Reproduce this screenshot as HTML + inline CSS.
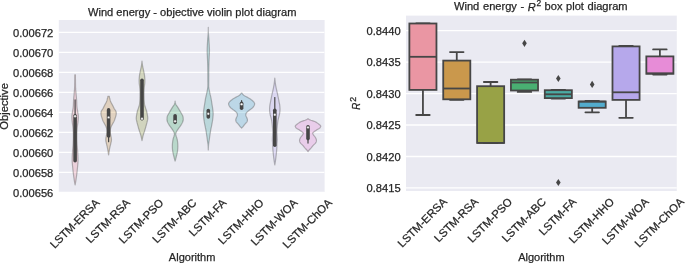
<!DOCTYPE html>
<html><head><meta charset="utf-8"><style>
html,body{margin:0;padding:0;background:#fff;}
body{width:685px;height:263px;overflow:hidden;}
svg{display:block;font-family:"Liberation Sans", sans-serif;will-change:transform;}
text{stroke:#262626;stroke-width:0.25px;}
</style></head><body>
<svg width="685" height="263" viewBox="0 0 685 263">
<rect x="0" y="0" width="685" height="263" fill="#ffffff"/>
<rect x="58.8" y="20.0" width="265.80" height="172.00" fill="#EAEAF2"/>
<clipPath id="cl"><rect x="58.8" y="20.0" width="265.80" height="172.00"/></clipPath>
<g clip-path="url(#cl)">
<line x1="58.8" x2="324.6" y1="32.40" y2="32.40" stroke="#ffffff" stroke-width="1.3"/>
<line x1="58.8" x2="324.6" y1="52.40" y2="52.40" stroke="#ffffff" stroke-width="1.3"/>
<line x1="58.8" x2="324.6" y1="72.40" y2="72.40" stroke="#ffffff" stroke-width="1.3"/>
<line x1="58.8" x2="324.6" y1="92.40" y2="92.40" stroke="#ffffff" stroke-width="1.3"/>
<line x1="58.8" x2="324.6" y1="112.40" y2="112.40" stroke="#ffffff" stroke-width="1.3"/>
<line x1="58.8" x2="324.6" y1="132.40" y2="132.40" stroke="#ffffff" stroke-width="1.3"/>
<line x1="58.8" x2="324.6" y1="152.40" y2="152.40" stroke="#ffffff" stroke-width="1.3"/>
<line x1="58.8" x2="324.6" y1="172.40" y2="172.40" stroke="#ffffff" stroke-width="1.3"/>
<line x1="58.8" x2="324.6" y1="192.40" y2="192.40" stroke="#ffffff" stroke-width="1.3"/>
<path d="M75.40,74.80 L75.40,75.10 L75.41,75.46 L75.41,75.89 L75.41,76.37 L75.42,76.90 L75.42,77.47 L75.43,78.07 L75.43,78.70 L75.44,79.34 L75.45,80.00 L75.46,80.43 L75.46,80.89 L75.47,81.37 L75.47,81.88 L75.48,82.40 L75.49,82.94 L75.50,83.48 L75.50,84.02 L75.51,84.57 L75.52,85.11 L75.53,85.64 L75.54,86.16 L75.55,86.66 L75.57,87.13 L75.58,87.58 L75.60,88.00 L75.63,88.66 L75.67,89.24 L75.71,89.75 L75.75,90.22 L75.79,90.68 L75.84,91.14 L75.89,91.63 L75.95,92.18 L76.00,92.80 L76.04,93.24 L76.08,93.71 L76.12,94.20 L76.17,94.71 L76.21,95.23 L76.26,95.76 L76.31,96.30 L76.35,96.84 L76.40,97.39 L76.44,97.93 L76.49,98.47 L76.53,98.99 L76.57,99.50 L76.60,100.00 L76.63,100.57 L76.66,101.13 L76.69,101.70 L76.71,102.26 L76.73,102.81 L76.74,103.36 L76.76,103.90 L76.78,104.43 L76.80,104.95 L76.83,105.45 L76.86,105.93 L76.90,106.40 L76.96,106.99 L77.03,107.54 L77.10,108.05 L77.18,108.55 L77.27,109.03 L77.35,109.50 L77.44,109.99 L77.52,110.48 L77.60,111.00 L77.67,111.48 L77.75,111.97 L77.84,112.47 L77.92,112.97 L78.01,113.47 L78.08,113.98 L78.16,114.49 L78.22,114.99 L78.27,115.50 L78.30,116.00 L78.32,116.50 L78.33,116.98 L78.33,117.47 L78.31,117.95 L78.29,118.44 L78.27,118.93 L78.23,119.43 L78.19,119.94 L78.15,120.46 L78.10,121.00 L78.05,121.46 L78.00,121.94 L77.93,122.43 L77.86,122.93 L77.79,123.43 L77.71,123.94 L77.64,124.45 L77.56,124.96 L77.49,125.48 L77.42,125.99 L77.35,126.50 L77.30,127.00 L77.25,127.50 L77.21,127.99 L77.16,128.48 L77.12,128.96 L77.08,129.45 L77.05,129.94 L77.02,130.43 L76.99,130.93 L76.96,131.43 L76.94,131.94 L76.92,132.46 L76.90,133.00 L76.89,133.47 L76.88,133.96 L76.87,134.45 L76.86,134.96 L76.86,135.47 L76.86,135.98 L76.86,136.50 L76.86,137.02 L76.86,137.53 L76.87,138.04 L76.87,138.55 L76.88,139.04 L76.89,139.53 L76.90,140.00 L76.91,140.54 L76.93,141.06 L76.95,141.57 L76.97,142.07 L76.99,142.57 L77.02,143.06 L77.05,143.55 L77.07,144.04 L77.10,144.52 L77.13,145.01 L77.17,145.50 L77.20,146.00 L77.24,146.50 L77.27,147.00 L77.32,147.50 L77.36,148.00 L77.40,148.50 L77.45,149.00 L77.50,149.50 L77.54,150.00 L77.58,150.50 L77.63,151.00 L77.66,151.50 L77.70,152.00 L77.73,152.51 L77.77,153.02 L77.80,153.55 L77.83,154.07 L77.85,154.60 L77.88,155.12 L77.91,155.64 L77.93,156.15 L77.95,156.64 L77.97,157.12 L77.99,157.57 L78.00,158.00 L78.02,158.59 L78.03,159.13 L78.04,159.62 L78.04,160.09 L78.04,160.55 L78.04,161.01 L78.02,161.49 L78.00,162.00 L77.97,162.47 L77.94,162.94 L77.90,163.41 L77.86,163.89 L77.81,164.38 L77.76,164.88 L77.71,165.40 L77.66,165.94 L77.60,166.50 L77.55,166.98 L77.51,167.47 L77.46,167.97 L77.41,168.48 L77.36,169.00 L77.31,169.54 L77.26,170.09 L77.20,170.64 L77.14,171.22 L77.07,171.80 L77.00,172.40 L76.94,172.89 L76.88,173.40 L76.81,173.93 L76.74,174.47 L76.67,175.02 L76.59,175.58 L76.52,176.14 L76.44,176.70 L76.37,177.26 L76.29,177.80 L76.21,178.33 L76.14,178.85 L76.07,179.34 L76.00,179.80 L75.90,180.43 L75.80,181.06 L75.69,181.69 L75.59,182.29 L75.49,182.86 L75.39,183.40 L75.30,183.89 L75.22,184.33 L75.15,184.70 L75.10,185.00 L75.10,185.00 L75.05,184.70 L74.98,184.33 L74.90,183.89 L74.81,183.40 L74.71,182.86 L74.61,182.29 L74.51,181.69 L74.40,181.06 L74.30,180.43 L74.20,179.80 L74.13,179.34 L74.06,178.85 L73.99,178.33 L73.91,177.80 L73.83,177.26 L73.76,176.70 L73.68,176.14 L73.61,175.58 L73.53,175.02 L73.46,174.47 L73.39,173.93 L73.32,173.40 L73.26,172.89 L73.20,172.40 L73.13,171.80 L73.06,171.22 L73.00,170.64 L72.94,170.09 L72.89,169.54 L72.84,169.00 L72.79,168.48 L72.74,167.97 L72.69,167.47 L72.65,166.98 L72.60,166.50 L72.54,165.94 L72.49,165.40 L72.44,164.88 L72.39,164.38 L72.34,163.89 L72.30,163.41 L72.26,162.94 L72.23,162.47 L72.20,162.00 L72.18,161.49 L72.16,161.01 L72.16,160.55 L72.16,160.09 L72.16,159.62 L72.17,159.13 L72.18,158.59 L72.20,158.00 L72.21,157.57 L72.23,157.12 L72.25,156.64 L72.27,156.15 L72.29,155.64 L72.32,155.12 L72.35,154.60 L72.37,154.07 L72.40,153.55 L72.43,153.02 L72.47,152.51 L72.50,152.00 L72.54,151.50 L72.57,151.00 L72.62,150.50 L72.66,150.00 L72.70,149.50 L72.75,149.00 L72.80,148.50 L72.84,148.00 L72.88,147.50 L72.93,147.00 L72.96,146.50 L73.00,146.00 L73.03,145.50 L73.07,145.01 L73.10,144.52 L73.13,144.04 L73.15,143.55 L73.18,143.06 L73.21,142.57 L73.23,142.07 L73.25,141.57 L73.27,141.06 L73.29,140.54 L73.30,140.00 L73.31,139.53 L73.32,139.04 L73.33,138.55 L73.33,138.04 L73.34,137.53 L73.34,137.02 L73.34,136.50 L73.34,135.98 L73.34,135.47 L73.34,134.96 L73.33,134.45 L73.32,133.96 L73.31,133.47 L73.30,133.00 L73.28,132.46 L73.26,131.94 L73.24,131.43 L73.21,130.93 L73.18,130.43 L73.15,129.94 L73.12,129.45 L73.08,128.96 L73.04,128.48 L72.99,127.99 L72.95,127.50 L72.90,127.00 L72.85,126.50 L72.78,125.99 L72.71,125.48 L72.64,124.96 L72.56,124.45 L72.49,123.94 L72.41,123.43 L72.34,122.93 L72.27,122.43 L72.20,121.94 L72.15,121.46 L72.10,121.00 L72.05,120.46 L72.01,119.94 L71.97,119.43 L71.93,118.93 L71.91,118.44 L71.89,117.95 L71.87,117.47 L71.87,116.98 L71.88,116.50 L71.90,116.00 L71.93,115.50 L71.98,114.99 L72.04,114.49 L72.12,113.98 L72.19,113.47 L72.28,112.97 L72.36,112.47 L72.45,111.97 L72.53,111.48 L72.60,111.00 L72.68,110.48 L72.76,109.99 L72.85,109.50 L72.93,109.03 L73.02,108.55 L73.10,108.05 L73.17,107.54 L73.24,106.99 L73.30,106.40 L73.34,105.93 L73.37,105.45 L73.40,104.95 L73.42,104.43 L73.44,103.90 L73.46,103.36 L73.47,102.81 L73.49,102.26 L73.51,101.70 L73.54,101.13 L73.57,100.57 L73.60,100.00 L73.63,99.50 L73.67,98.99 L73.71,98.47 L73.76,97.93 L73.80,97.39 L73.85,96.84 L73.89,96.30 L73.94,95.76 L73.99,95.23 L74.03,94.71 L74.08,94.20 L74.12,93.71 L74.16,93.24 L74.20,92.80 L74.25,92.18 L74.31,91.63 L74.36,91.14 L74.41,90.68 L74.45,90.22 L74.49,89.75 L74.53,89.24 L74.57,88.66 L74.60,88.00 L74.62,87.58 L74.63,87.13 L74.65,86.66 L74.66,86.16 L74.67,85.64 L74.68,85.11 L74.69,84.57 L74.70,84.02 L74.70,83.48 L74.71,82.94 L74.72,82.40 L74.73,81.88 L74.73,81.37 L74.74,80.89 L74.74,80.43 L74.75,80.00 L74.76,79.34 L74.77,78.70 L74.77,78.07 L74.78,77.47 L74.78,76.90 L74.79,76.37 L74.79,75.89 L74.79,75.46 L74.80,75.10 L74.80,74.80 Z" fill="#ea96a3" fill-opacity="0.3" stroke="#464646" stroke-opacity="0.36" stroke-width="1.2" stroke-linejoin="round"/>
<path d="M109.35,96.30 L109.37,96.81 L109.45,97.50 L109.58,97.94 L109.75,98.41 L109.95,99.00 L110.06,99.43 L110.15,99.90 L110.27,100.42 L110.42,100.99 L110.65,101.60 L110.87,102.08 L111.13,102.60 L111.42,103.14 L111.73,103.71 L112.05,104.28 L112.36,104.85 L112.65,105.40 L112.93,105.96 L113.22,106.54 L113.50,107.13 L113.78,107.71 L114.05,108.26 L114.31,108.76 L114.55,109.20 L115.06,109.94 L115.51,110.46 L115.85,111.00 L116.02,111.50 L116.14,112.01 L116.21,112.52 L116.25,113.00 L116.28,113.51 L116.25,113.98 L116.15,114.60 L116.06,115.02 L115.95,115.49 L115.81,116.01 L115.66,116.54 L115.51,117.08 L115.35,117.60 L115.19,118.11 L115.02,118.63 L114.85,119.15 L114.66,119.67 L114.46,120.19 L114.25,120.70 L114.02,121.21 L113.77,121.71 L113.50,122.21 L113.23,122.70 L112.96,123.20 L112.70,123.70 L112.43,124.20 L112.15,124.71 L111.88,125.22 L111.61,125.72 L111.36,126.22 L111.15,126.70 L110.94,127.24 L110.76,127.76 L110.61,128.27 L110.49,128.81 L110.40,129.40 L110.35,129.85 L110.30,130.31 L110.27,130.79 L110.26,131.29 L110.27,131.82 L110.30,132.39 L110.35,133.00 L110.41,133.47 L110.50,133.99 L110.60,134.55 L110.72,135.12 L110.85,135.71 L110.97,136.29 L111.09,136.85 L111.20,137.38 L111.29,137.87 L111.35,138.30 L111.42,139.01 L111.45,139.57 L111.44,140.04 L111.40,140.50 L111.35,141.00 L111.28,141.50 L111.18,141.96 L111.06,142.43 L110.92,142.99 L110.75,143.70 L110.65,144.12 L110.54,144.58 L110.43,145.08 L110.30,145.60 L110.17,146.14 L110.04,146.70 L109.91,147.28 L109.78,147.85 L109.66,148.43 L109.55,149.00 L109.46,149.49 L109.37,150.03 L109.27,150.59 L109.18,151.17 L109.09,151.75 L109.00,152.33 L108.92,152.89 L108.84,153.42 L108.76,153.91 L108.70,154.34 L108.65,154.71 L108.60,155.00 L108.60,155.00 L108.55,154.71 L108.50,154.34 L108.44,153.91 L108.36,153.42 L108.28,152.89 L108.20,152.33 L108.11,151.75 L108.02,151.17 L107.93,150.59 L107.83,150.03 L107.74,149.49 L107.65,149.00 L107.54,148.43 L107.42,147.85 L107.29,147.28 L107.16,146.70 L107.03,146.14 L106.90,145.60 L106.77,145.08 L106.66,144.58 L106.55,144.12 L106.45,143.70 L106.28,142.99 L106.14,142.43 L106.02,141.96 L105.92,141.50 L105.85,141.00 L105.80,140.50 L105.76,140.04 L105.75,139.57 L105.78,139.01 L105.85,138.30 L105.91,137.87 L106.00,137.38 L106.11,136.85 L106.23,136.29 L106.35,135.71 L106.48,135.12 L106.60,134.55 L106.70,133.99 L106.79,133.47 L106.85,133.00 L106.90,132.39 L106.93,131.82 L106.94,131.29 L106.93,130.79 L106.90,130.31 L106.85,129.85 L106.80,129.40 L106.71,128.81 L106.59,128.27 L106.44,127.76 L106.26,127.24 L106.05,126.70 L105.84,126.22 L105.59,125.72 L105.32,125.22 L105.05,124.71 L104.77,124.20 L104.50,123.70 L104.24,123.20 L103.97,122.70 L103.70,122.21 L103.43,121.71 L103.18,121.21 L102.95,120.70 L102.74,120.19 L102.54,119.67 L102.35,119.15 L102.18,118.63 L102.01,118.11 L101.85,117.60 L101.69,117.08 L101.54,116.54 L101.39,116.01 L101.25,115.49 L101.14,115.02 L101.05,114.60 L100.95,113.98 L100.92,113.51 L100.95,113.00 L100.99,112.52 L101.06,112.01 L101.17,111.50 L101.35,111.00 L101.69,110.46 L102.14,109.94 L102.65,109.20 L102.89,108.76 L103.15,108.26 L103.42,107.71 L103.70,107.13 L103.98,106.54 L104.27,105.96 L104.55,105.40 L104.84,104.85 L105.15,104.28 L105.47,103.71 L105.78,103.14 L106.07,102.60 L106.33,102.08 L106.55,101.60 L106.78,100.99 L106.93,100.42 L107.05,99.90 L107.14,99.43 L107.25,99.00 L107.45,98.41 L107.62,97.94 L107.75,97.50 L107.83,96.81 L107.85,96.30 Z" fill="#ca984c" fill-opacity="0.3" stroke="#464646" stroke-opacity="0.36" stroke-width="1.2" stroke-linejoin="round"/>
<path d="M142.00,61.20 L142.04,61.51 L142.08,61.93 L142.13,62.42 L142.19,62.96 L142.26,63.55 L142.33,64.14 L142.41,64.74 L142.50,65.30 L142.59,65.79 L142.68,66.29 L142.79,66.80 L142.89,67.32 L143.01,67.83 L143.12,68.36 L143.23,68.87 L143.34,69.39 L143.45,69.90 L143.55,70.40 L143.66,70.90 L143.77,71.40 L143.88,71.90 L143.98,72.40 L144.08,72.90 L144.18,73.40 L144.27,73.90 L144.35,74.40 L144.43,74.91 L144.50,75.43 L144.57,75.95 L144.63,76.47 L144.69,76.99 L144.74,77.51 L144.78,78.02 L144.82,78.51 L144.85,79.00 L144.87,79.53 L144.89,80.04 L144.89,80.54 L144.89,81.04 L144.88,81.53 L144.86,82.01 L144.83,82.50 L144.80,83.00 L144.76,83.50 L144.70,84.00 L144.63,84.50 L144.56,85.00 L144.49,85.50 L144.42,86.00 L144.35,86.50 L144.30,87.00 L144.26,87.49 L144.21,87.95 L144.18,88.41 L144.14,88.88 L144.11,89.35 L144.09,89.86 L144.07,90.40 L144.05,91.00 L144.04,91.44 L144.03,91.91 L144.03,92.41 L144.03,92.93 L144.02,93.46 L144.03,94.00 L144.03,94.54 L144.03,95.07 L144.03,95.59 L144.04,96.09 L144.04,96.56 L144.05,97.00 L144.06,97.59 L144.07,98.12 L144.08,98.61 L144.09,99.08 L144.10,99.53 L144.13,99.99 L144.16,100.48 L144.20,101.00 L144.24,101.50 L144.28,102.01 L144.32,102.53 L144.37,103.06 L144.43,103.60 L144.49,104.14 L144.58,104.69 L144.68,105.24 L144.80,105.80 L144.94,106.30 L145.10,106.81 L145.28,107.32 L145.47,107.84 L145.68,108.36 L145.88,108.88 L146.08,109.41 L146.27,109.93 L146.45,110.47 L146.60,111.00 L146.72,111.50 L146.84,112.02 L146.95,112.56 L147.06,113.10 L147.16,113.65 L147.25,114.19 L147.34,114.71 L147.41,115.21 L147.48,115.68 L147.55,116.11 L147.60,116.50 L147.69,117.18 L147.74,117.69 L147.75,118.11 L147.74,118.52 L147.70,119.00 L147.66,119.42 L147.60,119.81 L147.53,120.22 L147.42,120.69 L147.28,121.26 L147.10,122.00 L147.01,122.38 L146.90,122.79 L146.78,123.24 L146.66,123.71 L146.53,124.20 L146.39,124.72 L146.25,125.25 L146.10,125.79 L145.95,126.34 L145.80,126.88 L145.65,127.43 L145.50,127.97 L145.35,128.49 L145.20,129.00 L145.05,129.51 L144.89,130.02 L144.73,130.54 L144.56,131.07 L144.39,131.59 L144.22,132.12 L144.04,132.64 L143.87,133.16 L143.71,133.67 L143.55,134.17 L143.40,134.65 L143.25,135.12 L143.12,135.57 L143.00,136.00 L142.83,136.65 L142.68,137.29 L142.54,137.91 L142.42,138.50 L142.31,139.06 L142.21,139.57 L142.13,140.02 L142.06,140.40 L142.00,140.70 L142.00,140.70 L141.94,140.40 L141.87,140.02 L141.79,139.57 L141.69,139.06 L141.58,138.50 L141.46,137.91 L141.32,137.29 L141.17,136.65 L141.00,136.00 L140.88,135.57 L140.75,135.12 L140.60,134.65 L140.45,134.17 L140.29,133.67 L140.13,133.16 L139.96,132.64 L139.78,132.12 L139.61,131.59 L139.44,131.07 L139.27,130.54 L139.11,130.02 L138.95,129.51 L138.80,129.00 L138.65,128.49 L138.50,127.97 L138.35,127.43 L138.20,126.88 L138.05,126.34 L137.90,125.79 L137.75,125.25 L137.61,124.72 L137.47,124.20 L137.34,123.71 L137.22,123.24 L137.10,122.79 L136.99,122.38 L136.90,122.00 L136.72,121.26 L136.58,120.69 L136.47,120.22 L136.40,119.81 L136.34,119.42 L136.30,119.00 L136.26,118.52 L136.25,118.11 L136.26,117.69 L136.31,117.18 L136.40,116.50 L136.45,116.11 L136.52,115.68 L136.59,115.21 L136.66,114.71 L136.75,114.19 L136.84,113.65 L136.94,113.10 L137.05,112.56 L137.16,112.02 L137.28,111.50 L137.40,111.00 L137.55,110.47 L137.73,109.93 L137.92,109.41 L138.12,108.88 L138.32,108.36 L138.53,107.84 L138.72,107.32 L138.90,106.81 L139.06,106.30 L139.20,105.80 L139.32,105.24 L139.42,104.69 L139.51,104.14 L139.57,103.60 L139.63,103.06 L139.68,102.53 L139.72,102.01 L139.76,101.50 L139.80,101.00 L139.84,100.48 L139.87,99.99 L139.90,99.53 L139.91,99.08 L139.92,98.61 L139.93,98.12 L139.94,97.59 L139.95,97.00 L139.96,96.56 L139.96,96.09 L139.97,95.59 L139.97,95.07 L139.97,94.54 L139.97,94.00 L139.98,93.46 L139.97,92.93 L139.97,92.41 L139.97,91.91 L139.96,91.44 L139.95,91.00 L139.93,90.40 L139.91,89.86 L139.89,89.35 L139.86,88.88 L139.82,88.41 L139.79,87.95 L139.74,87.49 L139.70,87.00 L139.65,86.50 L139.58,86.00 L139.51,85.50 L139.44,85.00 L139.37,84.50 L139.30,84.00 L139.24,83.50 L139.20,83.00 L139.17,82.50 L139.14,82.01 L139.12,81.53 L139.11,81.04 L139.11,80.54 L139.11,80.04 L139.13,79.53 L139.15,79.00 L139.18,78.51 L139.22,78.02 L139.26,77.51 L139.31,76.99 L139.37,76.47 L139.43,75.95 L139.50,75.43 L139.57,74.91 L139.65,74.40 L139.73,73.90 L139.82,73.40 L139.92,72.90 L140.02,72.40 L140.12,71.90 L140.23,71.40 L140.34,70.90 L140.45,70.40 L140.55,69.90 L140.66,69.39 L140.77,68.87 L140.88,68.36 L140.99,67.83 L141.11,67.32 L141.21,66.80 L141.32,66.29 L141.41,65.79 L141.50,65.30 L141.59,64.74 L141.67,64.14 L141.74,63.55 L141.81,62.96 L141.87,62.42 L141.92,61.93 L141.96,61.51 L142.00,61.20 Z" fill="#98a246" fill-opacity="0.3" stroke="#464646" stroke-opacity="0.36" stroke-width="1.2" stroke-linejoin="round"/>
<path d="M175.10,101.20 L175.16,101.59 L175.23,102.15 L175.33,102.79 L175.48,103.47 L175.70,104.10 L175.95,104.59 L176.26,105.09 L176.60,105.59 L176.96,106.10 L177.32,106.60 L177.65,107.10 L177.96,107.60 L178.26,108.10 L178.56,108.59 L178.86,109.09 L179.15,109.59 L179.45,110.10 L179.75,110.61 L180.06,111.13 L180.36,111.65 L180.66,112.17 L180.96,112.69 L181.25,113.20 L181.54,113.71 L181.84,114.23 L182.14,114.75 L182.42,115.26 L182.66,115.74 L182.85,116.20 L183.03,116.83 L183.13,117.41 L183.17,117.96 L183.20,118.50 L183.23,119.01 L183.25,119.50 L183.23,119.99 L183.15,120.50 L183.02,121.04 L182.84,121.58 L182.60,122.16 L182.30,122.80 L182.05,123.27 L181.77,123.78 L181.46,124.31 L181.13,124.84 L180.79,125.38 L180.45,125.90 L180.10,126.41 L179.73,126.91 L179.35,127.41 L178.97,127.90 L178.60,128.40 L178.25,128.90 L177.90,129.41 L177.55,129.93 L177.20,130.46 L176.88,130.97 L176.59,131.45 L176.35,131.90 L176.09,132.49 L175.91,133.01 L175.80,133.50 L175.75,134.00 L175.76,134.47 L175.84,134.90 L175.98,135.38 L176.15,136.00 L176.27,136.42 L176.43,136.87 L176.60,137.36 L176.78,137.89 L176.95,138.45 L177.11,139.05 L177.25,139.70 L177.33,140.14 L177.40,140.61 L177.48,141.11 L177.54,141.63 L177.61,142.16 L177.67,142.70 L177.72,143.24 L177.77,143.79 L177.81,144.34 L177.83,144.87 L177.85,145.40 L177.86,145.92 L177.86,146.44 L177.85,146.95 L177.83,147.47 L177.81,147.99 L177.77,148.50 L177.73,149.02 L177.69,149.54 L177.63,150.06 L177.57,150.58 L177.50,151.10 L177.42,151.63 L177.33,152.17 L177.22,152.72 L177.11,153.26 L176.99,153.81 L176.86,154.36 L176.74,154.90 L176.61,155.42 L176.48,155.94 L176.36,156.43 L176.25,156.90 L176.09,157.54 L175.93,158.18 L175.76,158.81 L175.60,159.41 L175.44,159.97 L175.30,160.46 L175.19,160.88 L175.10,161.20 L175.10,161.20 L175.01,160.88 L174.90,160.46 L174.76,159.97 L174.60,159.41 L174.44,158.81 L174.27,158.18 L174.11,157.54 L173.95,156.90 L173.84,156.43 L173.72,155.94 L173.59,155.42 L173.46,154.90 L173.34,154.36 L173.21,153.81 L173.09,153.26 L172.98,152.72 L172.87,152.17 L172.78,151.63 L172.70,151.10 L172.63,150.58 L172.57,150.06 L172.51,149.54 L172.47,149.02 L172.43,148.50 L172.39,147.99 L172.37,147.47 L172.35,146.95 L172.34,146.44 L172.34,145.92 L172.35,145.40 L172.37,144.87 L172.39,144.34 L172.43,143.79 L172.48,143.24 L172.53,142.70 L172.59,142.16 L172.66,141.63 L172.72,141.11 L172.80,140.61 L172.87,140.14 L172.95,139.70 L173.09,139.05 L173.25,138.45 L173.42,137.89 L173.60,137.36 L173.77,136.87 L173.93,136.42 L174.05,136.00 L174.22,135.38 L174.36,134.90 L174.44,134.47 L174.45,134.00 L174.40,133.50 L174.29,133.01 L174.11,132.49 L173.85,131.90 L173.61,131.45 L173.32,130.97 L173.00,130.46 L172.65,129.93 L172.30,129.41 L171.95,128.90 L171.60,128.40 L171.23,127.90 L170.85,127.41 L170.47,126.91 L170.10,126.41 L169.75,125.90 L169.41,125.38 L169.07,124.84 L168.74,124.31 L168.43,123.78 L168.15,123.27 L167.90,122.80 L167.60,122.16 L167.36,121.58 L167.18,121.04 L167.05,120.50 L166.97,119.99 L166.95,119.50 L166.97,119.01 L167.00,118.50 L167.03,117.96 L167.07,117.41 L167.17,116.83 L167.35,116.20 L167.54,115.74 L167.78,115.26 L168.06,114.75 L168.36,114.23 L168.66,113.71 L168.95,113.20 L169.24,112.69 L169.54,112.17 L169.84,111.65 L170.14,111.13 L170.45,110.61 L170.75,110.10 L171.05,109.59 L171.34,109.09 L171.64,108.59 L171.94,108.10 L172.24,107.60 L172.55,107.10 L172.88,106.60 L173.24,106.10 L173.60,105.59 L173.94,105.09 L174.25,104.59 L174.50,104.10 L174.72,103.47 L174.87,102.79 L174.97,102.15 L175.04,101.59 L175.10,101.20 Z" fill="#49af72" fill-opacity="0.3" stroke="#464646" stroke-opacity="0.36" stroke-width="1.2" stroke-linejoin="round"/>
<path d="M208.30,27.30 L208.30,27.60 L208.30,27.97 L208.30,28.40 L208.30,28.89 L208.30,29.43 L208.30,30.01 L208.30,30.64 L208.32,31.31 L208.35,32.00 L208.37,32.41 L208.40,32.83 L208.43,33.27 L208.46,33.72 L208.50,34.19 L208.54,34.67 L208.58,35.16 L208.62,35.67 L208.66,36.18 L208.71,36.71 L208.75,37.24 L208.79,37.78 L208.84,38.33 L208.88,38.88 L208.91,39.44 L208.95,40.00 L208.98,40.46 L209.01,40.93 L209.04,41.42 L209.07,41.92 L209.10,42.43 L209.13,42.95 L209.16,43.47 L209.19,44.00 L209.22,44.53 L209.25,45.06 L209.28,45.59 L209.31,46.12 L209.33,46.64 L209.36,47.16 L209.38,47.66 L209.40,48.16 L209.42,48.64 L209.43,49.11 L209.44,49.57 L209.45,50.00 L209.46,50.59 L209.45,51.17 L209.45,51.72 L209.43,52.25 L209.42,52.76 L209.40,53.26 L209.37,53.75 L209.35,54.23 L209.32,54.70 L209.29,55.16 L209.27,55.62 L209.24,56.08 L209.22,56.54 L209.20,57.00 L209.18,57.53 L209.16,58.05 L209.14,58.55 L209.11,59.04 L209.09,59.52 L209.07,60.00 L209.05,60.48 L209.03,60.96 L209.01,61.45 L208.99,61.95 L208.97,62.47 L208.95,63.00 L208.94,63.46 L208.92,63.92 L208.91,64.38 L208.90,64.84 L208.88,65.30 L208.87,65.77 L208.86,66.25 L208.85,66.74 L208.84,67.24 L208.83,67.75 L208.82,68.28 L208.82,68.83 L208.81,69.41 L208.80,70.00 L208.80,70.44 L208.79,70.89 L208.79,71.37 L208.78,71.86 L208.78,72.36 L208.77,72.88 L208.77,73.40 L208.77,73.93 L208.77,74.47 L208.76,75.01 L208.76,75.54 L208.76,76.08 L208.76,76.61 L208.75,77.13 L208.75,77.65 L208.75,78.15 L208.75,78.64 L208.75,79.11 L208.75,79.57 L208.75,80.00 L208.75,80.64 L208.74,81.25 L208.74,81.83 L208.73,82.40 L208.72,82.94 L208.72,83.47 L208.71,83.99 L208.71,84.49 L208.72,84.98 L208.73,85.47 L208.74,85.95 L208.77,86.42 L208.80,86.90 L208.85,87.45 L208.91,87.99 L208.97,88.50 L209.05,89.00 L209.13,89.49 L209.22,89.98 L209.31,90.46 L209.41,90.94 L209.50,91.42 L209.60,91.91 L209.70,92.40 L209.80,92.90 L209.91,93.40 L210.03,93.90 L210.14,94.40 L210.26,94.91 L210.39,95.41 L210.51,95.91 L210.62,96.41 L210.74,96.91 L210.85,97.40 L210.95,97.90 L211.05,98.44 L211.15,98.98 L211.25,99.52 L211.34,100.06 L211.43,100.60 L211.51,101.14 L211.59,101.68 L211.68,102.22 L211.76,102.76 L211.85,103.30 L211.93,103.80 L212.01,104.30 L212.10,104.81 L212.18,105.33 L212.26,105.84 L212.34,106.35 L212.42,106.85 L212.50,107.35 L212.57,107.85 L212.64,108.33 L212.70,108.80 L212.77,109.35 L212.84,109.88 L212.91,110.40 L212.97,110.90 L213.03,111.40 L213.08,111.90 L213.11,112.42 L213.14,112.95 L213.15,113.50 L213.15,113.97 L213.14,114.45 L213.12,114.95 L213.09,115.45 L213.05,115.95 L213.01,116.46 L212.97,116.97 L212.92,117.49 L212.86,118.00 L212.81,118.50 L212.75,119.00 L212.68,119.54 L212.61,120.08 L212.52,120.62 L212.44,121.16 L212.34,121.70 L212.25,122.24 L212.15,122.78 L212.05,123.32 L211.95,123.86 L211.85,124.40 L211.76,124.90 L211.66,125.40 L211.56,125.90 L211.45,126.41 L211.35,126.92 L211.24,127.42 L211.14,127.93 L211.03,128.43 L210.93,128.92 L210.84,129.41 L210.75,129.90 L210.66,130.43 L210.57,130.95 L210.48,131.46 L210.40,131.97 L210.33,132.48 L210.25,132.99 L210.17,133.49 L210.10,133.99 L210.02,134.50 L209.95,135.00 L209.88,135.50 L209.80,136.01 L209.73,136.51 L209.66,137.01 L209.59,137.51 L209.53,138.00 L209.46,138.50 L209.39,139.00 L209.32,139.50 L209.25,140.00 L209.18,140.50 L209.10,141.00 L209.03,141.50 L208.95,142.00 L208.87,142.50 L208.80,143.00 L208.73,143.50 L208.66,144.00 L208.60,144.50 L208.55,145.00 L208.51,145.52 L208.47,146.08 L208.43,146.66 L208.41,147.24 L208.38,147.81 L208.36,148.36 L208.34,148.87 L208.33,149.32 L208.31,149.70 L208.30,150.00 L208.30,150.00 L208.29,149.70 L208.27,149.32 L208.26,148.87 L208.24,148.36 L208.22,147.81 L208.19,147.24 L208.17,146.66 L208.13,146.08 L208.09,145.52 L208.05,145.00 L208.00,144.50 L207.94,144.00 L207.87,143.50 L207.80,143.00 L207.73,142.50 L207.65,142.00 L207.57,141.50 L207.50,141.00 L207.42,140.50 L207.35,140.00 L207.28,139.50 L207.21,139.00 L207.14,138.50 L207.07,138.00 L207.01,137.51 L206.94,137.01 L206.87,136.51 L206.80,136.01 L206.72,135.50 L206.65,135.00 L206.58,134.50 L206.50,133.99 L206.43,133.49 L206.35,132.99 L206.28,132.48 L206.20,131.97 L206.12,131.46 L206.03,130.95 L205.94,130.43 L205.85,129.90 L205.76,129.41 L205.67,128.92 L205.57,128.43 L205.46,127.93 L205.36,127.42 L205.25,126.92 L205.15,126.41 L205.04,125.90 L204.94,125.40 L204.84,124.90 L204.75,124.40 L204.65,123.86 L204.55,123.32 L204.45,122.78 L204.35,122.24 L204.26,121.70 L204.16,121.16 L204.08,120.62 L203.99,120.08 L203.92,119.54 L203.85,119.00 L203.79,118.50 L203.74,118.00 L203.68,117.49 L203.63,116.97 L203.59,116.46 L203.55,115.95 L203.51,115.45 L203.48,114.95 L203.46,114.45 L203.45,113.97 L203.45,113.50 L203.46,112.95 L203.49,112.42 L203.52,111.90 L203.57,111.40 L203.63,110.90 L203.69,110.40 L203.76,109.88 L203.83,109.35 L203.90,108.80 L203.96,108.33 L204.03,107.85 L204.10,107.35 L204.18,106.85 L204.26,106.35 L204.34,105.84 L204.42,105.33 L204.50,104.81 L204.59,104.30 L204.67,103.80 L204.75,103.30 L204.84,102.76 L204.92,102.22 L205.01,101.68 L205.09,101.14 L205.18,100.60 L205.26,100.06 L205.35,99.52 L205.45,98.98 L205.55,98.44 L205.65,97.90 L205.75,97.40 L205.86,96.91 L205.98,96.41 L206.09,95.91 L206.21,95.41 L206.34,94.91 L206.46,94.40 L206.57,93.90 L206.69,93.40 L206.80,92.90 L206.90,92.40 L207.00,91.91 L207.10,91.42 L207.19,90.94 L207.29,90.46 L207.38,89.98 L207.47,89.49 L207.55,89.00 L207.63,88.50 L207.69,87.99 L207.75,87.45 L207.80,86.90 L207.83,86.42 L207.86,85.95 L207.87,85.47 L207.88,84.98 L207.89,84.49 L207.89,83.99 L207.88,83.47 L207.88,82.94 L207.87,82.40 L207.86,81.83 L207.86,81.25 L207.85,80.64 L207.85,80.00 L207.85,79.57 L207.85,79.11 L207.85,78.64 L207.85,78.15 L207.85,77.65 L207.85,77.13 L207.84,76.61 L207.84,76.08 L207.84,75.54 L207.84,75.01 L207.83,74.47 L207.83,73.93 L207.83,73.40 L207.83,72.88 L207.82,72.36 L207.82,71.86 L207.81,71.37 L207.81,70.89 L207.80,70.44 L207.80,70.00 L207.79,69.41 L207.78,68.83 L207.78,68.28 L207.77,67.75 L207.76,67.24 L207.75,66.74 L207.74,66.25 L207.73,65.77 L207.72,65.30 L207.70,64.84 L207.69,64.38 L207.68,63.92 L207.66,63.46 L207.65,63.00 L207.63,62.47 L207.61,61.95 L207.59,61.45 L207.57,60.96 L207.55,60.48 L207.53,60.00 L207.51,59.52 L207.49,59.04 L207.46,58.55 L207.44,58.05 L207.42,57.53 L207.40,57.00 L207.38,56.54 L207.36,56.08 L207.33,55.62 L207.31,55.16 L207.28,54.70 L207.25,54.23 L207.23,53.75 L207.20,53.26 L207.18,52.76 L207.17,52.25 L207.15,51.72 L207.15,51.17 L207.14,50.59 L207.15,50.00 L207.16,49.57 L207.17,49.11 L207.18,48.64 L207.20,48.16 L207.22,47.66 L207.24,47.16 L207.27,46.64 L207.29,46.12 L207.32,45.59 L207.35,45.06 L207.38,44.53 L207.41,44.00 L207.44,43.47 L207.47,42.95 L207.50,42.43 L207.53,41.92 L207.56,41.42 L207.59,40.93 L207.62,40.46 L207.65,40.00 L207.69,39.44 L207.72,38.88 L207.76,38.33 L207.81,37.78 L207.85,37.24 L207.89,36.71 L207.94,36.18 L207.98,35.67 L208.02,35.16 L208.06,34.67 L208.10,34.19 L208.14,33.72 L208.17,33.27 L208.20,32.83 L208.23,32.41 L208.25,32.00 L208.28,31.31 L208.30,30.64 L208.30,30.01 L208.30,29.43 L208.30,28.89 L208.30,28.40 L208.30,27.97 L208.30,27.60 L208.30,27.30 Z" fill="#4baba4" fill-opacity="0.3" stroke="#464646" stroke-opacity="0.36" stroke-width="1.2" stroke-linejoin="round"/>
<path d="M242.10,93.20 L242.26,93.55 L242.50,94.00 L242.79,94.39 L243.20,94.80 L243.78,95.23 L244.50,95.70 L245.39,96.23 L246.40,96.80 L247.51,97.40 L248.60,98.00 L249.49,98.51 L250.40,99.10 L251.18,99.65 L252.02,100.29 L252.80,101.00 L253.24,101.46 L253.69,101.95 L254.10,102.46 L254.42,102.98 L254.60,103.50 L254.62,104.04 L254.52,104.60 L254.32,105.16 L254.07,105.70 L253.80,106.20 L253.44,106.75 L253.00,107.25 L252.52,107.72 L252.00,108.20 L251.25,108.82 L250.43,109.43 L249.55,110.10 L248.96,110.56 L248.30,111.06 L247.65,111.57 L247.06,112.09 L246.60,112.60 L246.28,113.11 L246.05,113.62 L245.90,114.13 L245.82,114.63 L245.80,115.10 L245.89,115.64 L246.10,116.15 L246.36,116.66 L246.60,117.20 L246.79,117.68 L247.00,118.19 L247.20,118.71 L247.37,119.22 L247.45,119.70 L247.46,120.24 L247.39,120.75 L247.23,121.26 L246.95,121.80 L246.61,122.28 L246.16,122.79 L245.66,123.31 L245.18,123.82 L244.75,124.30 L244.32,124.86 L243.94,125.41 L243.58,125.92 L243.20,126.40 L242.61,127.03 L242.02,127.60 L241.60,128.00 L241.60,128.00 L241.18,127.60 L240.59,127.03 L240.00,126.40 L239.62,125.92 L239.26,125.41 L238.88,124.86 L238.45,124.30 L238.02,123.82 L237.54,123.31 L237.04,122.79 L236.59,122.28 L236.25,121.80 L235.97,121.26 L235.81,120.75 L235.74,120.24 L235.75,119.70 L235.83,119.22 L236.00,118.71 L236.20,118.19 L236.41,117.68 L236.60,117.20 L236.84,116.66 L237.10,116.15 L237.31,115.64 L237.40,115.10 L237.38,114.63 L237.30,114.13 L237.15,113.62 L236.92,113.11 L236.60,112.60 L236.14,112.09 L235.55,111.57 L234.90,111.06 L234.24,110.56 L233.65,110.10 L232.77,109.43 L231.95,108.82 L231.20,108.20 L230.68,107.72 L230.20,107.25 L229.76,106.75 L229.40,106.20 L229.13,105.70 L228.88,105.16 L228.68,104.60 L228.58,104.04 L228.60,103.50 L228.78,102.98 L229.10,102.46 L229.51,101.95 L229.96,101.46 L230.40,101.00 L231.18,100.29 L232.02,99.65 L232.80,99.10 L233.71,98.51 L234.60,98.00 L235.69,97.40 L236.80,96.80 L237.81,96.23 L238.70,95.70 L239.42,95.23 L240.00,94.80 L240.41,94.39 L240.70,94.00 L240.94,93.55 L241.10,93.20 Z" fill="#53accd" fill-opacity="0.3" stroke="#464646" stroke-opacity="0.36" stroke-width="1.2" stroke-linejoin="round"/>
<path d="M274.80,78.00 L274.83,78.31 L274.87,78.72 L274.91,79.19 L274.96,79.73 L275.01,80.31 L275.07,80.91 L275.13,81.53 L275.20,82.14 L275.27,82.74 L275.35,83.30 L275.42,83.79 L275.50,84.29 L275.58,84.79 L275.67,85.29 L275.76,85.79 L275.86,86.30 L275.95,86.80 L276.05,87.30 L276.15,87.80 L276.25,88.30 L276.35,88.80 L276.46,89.35 L276.58,89.90 L276.70,90.45 L276.83,91.01 L276.95,91.56 L277.08,92.10 L277.20,92.64 L277.32,93.17 L277.44,93.69 L277.55,94.20 L277.67,94.75 L277.78,95.30 L277.90,95.84 L278.01,96.38 L278.12,96.90 L278.22,97.40 L278.32,97.89 L278.41,98.35 L278.50,98.80 L278.62,99.41 L278.72,99.97 L278.82,100.48 L278.91,100.98 L279.00,101.48 L279.10,102.00 L279.21,102.53 L279.33,103.04 L279.45,103.56 L279.56,104.10 L279.66,104.67 L279.75,105.30 L279.80,105.75 L279.85,106.24 L279.89,106.74 L279.93,107.26 L279.97,107.79 L279.99,108.33 L280.01,108.86 L280.01,109.39 L280.00,109.90 L279.98,110.40 L279.95,110.89 L279.91,111.37 L279.85,111.85 L279.79,112.34 L279.72,112.83 L279.64,113.33 L279.55,113.86 L279.45,114.40 L279.35,114.87 L279.24,115.36 L279.12,115.87 L278.99,116.39 L278.85,116.91 L278.71,117.44 L278.57,117.96 L278.44,118.47 L278.31,118.97 L278.20,119.45 L278.10,119.90 L277.99,120.48 L277.89,121.03 L277.81,121.54 L277.74,122.04 L277.68,122.53 L277.62,123.01 L277.56,123.50 L277.50,124.00 L277.44,124.51 L277.38,125.01 L277.33,125.51 L277.28,126.01 L277.23,126.51 L277.18,127.01 L277.14,127.51 L277.10,128.00 L277.05,128.56 L277.00,129.12 L276.96,129.67 L276.92,130.22 L276.88,130.77 L276.86,131.33 L276.85,131.90 L276.85,132.40 L276.87,132.91 L276.89,133.43 L276.93,133.94 L276.96,134.46 L276.99,134.98 L277.02,135.49 L277.05,136.00 L277.07,136.51 L277.10,137.01 L277.13,137.52 L277.15,138.02 L277.18,138.52 L277.19,139.02 L277.20,139.51 L277.20,140.00 L277.18,140.54 L277.16,141.05 L277.12,141.55 L277.07,142.06 L277.03,142.60 L276.99,143.17 L276.95,143.80 L276.93,144.24 L276.92,144.70 L276.90,145.18 L276.89,145.67 L276.88,146.19 L276.86,146.70 L276.85,147.23 L276.83,147.75 L276.81,148.28 L276.78,148.79 L276.75,149.30 L276.71,149.80 L276.67,150.30 L276.63,150.80 L276.58,151.30 L276.53,151.81 L276.48,152.31 L276.42,152.81 L276.37,153.31 L276.31,153.81 L276.26,154.30 L276.20,154.80 L276.14,155.35 L276.08,155.90 L276.02,156.45 L275.95,157.01 L275.89,157.56 L275.82,158.10 L275.76,158.64 L275.69,159.17 L275.62,159.69 L275.55,160.20 L275.47,160.77 L275.38,161.36 L275.28,161.96 L275.18,162.55 L275.09,163.11 L275.00,163.64 L274.92,164.10 L274.85,164.50 L274.80,164.80 L274.80,164.80 L274.75,164.50 L274.68,164.10 L274.60,163.64 L274.51,163.11 L274.42,162.55 L274.32,161.96 L274.22,161.36 L274.13,160.77 L274.05,160.20 L273.98,159.69 L273.91,159.17 L273.84,158.64 L273.78,158.10 L273.71,157.56 L273.65,157.01 L273.58,156.45 L273.52,155.90 L273.46,155.35 L273.40,154.80 L273.34,154.30 L273.29,153.81 L273.23,153.31 L273.18,152.81 L273.12,152.31 L273.07,151.81 L273.02,151.30 L272.97,150.80 L272.93,150.30 L272.89,149.80 L272.85,149.30 L272.82,148.79 L272.79,148.28 L272.77,147.75 L272.75,147.23 L272.74,146.70 L272.72,146.19 L272.71,145.67 L272.70,145.18 L272.68,144.70 L272.67,144.24 L272.65,143.80 L272.61,143.17 L272.57,142.60 L272.53,142.06 L272.48,141.55 L272.44,141.05 L272.42,140.54 L272.40,140.00 L272.40,139.51 L272.41,139.02 L272.42,138.52 L272.45,138.02 L272.47,137.52 L272.50,137.01 L272.53,136.51 L272.55,136.00 L272.58,135.49 L272.61,134.98 L272.64,134.46 L272.68,133.94 L272.71,133.43 L272.73,132.91 L272.75,132.40 L272.75,131.90 L272.74,131.33 L272.72,130.77 L272.68,130.22 L272.64,129.67 L272.60,129.12 L272.55,128.56 L272.50,128.00 L272.46,127.51 L272.42,127.01 L272.37,126.51 L272.32,126.01 L272.27,125.51 L272.22,125.01 L272.16,124.51 L272.10,124.00 L272.04,123.50 L271.98,123.01 L271.92,122.53 L271.86,122.04 L271.79,121.54 L271.71,121.03 L271.61,120.48 L271.50,119.90 L271.40,119.45 L271.29,118.97 L271.16,118.47 L271.03,117.96 L270.89,117.44 L270.75,116.91 L270.61,116.39 L270.48,115.87 L270.36,115.36 L270.25,114.87 L270.15,114.40 L270.05,113.86 L269.96,113.33 L269.88,112.83 L269.81,112.34 L269.75,111.85 L269.69,111.37 L269.65,110.89 L269.62,110.40 L269.60,109.90 L269.59,109.39 L269.59,108.86 L269.61,108.33 L269.63,107.79 L269.67,107.26 L269.71,106.74 L269.75,106.24 L269.80,105.75 L269.85,105.30 L269.94,104.67 L270.04,104.10 L270.15,103.56 L270.27,103.04 L270.39,102.53 L270.50,102.00 L270.60,101.48 L270.69,100.98 L270.78,100.48 L270.88,99.97 L270.98,99.41 L271.10,98.80 L271.19,98.35 L271.28,97.89 L271.38,97.40 L271.48,96.90 L271.59,96.38 L271.70,95.84 L271.82,95.30 L271.93,94.75 L272.05,94.20 L272.16,93.69 L272.28,93.17 L272.40,92.64 L272.52,92.10 L272.65,91.56 L272.77,91.01 L272.90,90.45 L273.02,89.90 L273.14,89.35 L273.25,88.80 L273.35,88.30 L273.45,87.80 L273.55,87.30 L273.65,86.80 L273.74,86.30 L273.84,85.79 L273.93,85.29 L274.02,84.79 L274.10,84.29 L274.18,83.79 L274.25,83.30 L274.33,82.74 L274.40,82.14 L274.47,81.53 L274.53,80.91 L274.59,80.31 L274.64,79.73 L274.69,79.19 L274.73,78.72 L274.77,78.31 L274.80,78.00 Z" fill="#b6a8eb" fill-opacity="0.3" stroke="#464646" stroke-opacity="0.36" stroke-width="1.2" stroke-linejoin="round"/>
<path d="M308.55,118.90 L308.79,119.16 L309.25,119.50 L309.98,119.83 L310.95,120.20 L312.21,120.63 L313.55,121.10 L314.74,121.54 L315.95,122.10 L316.87,122.69 L317.83,123.39 L318.65,124.00 L319.53,124.65 L320.15,125.20 L320.57,125.76 L320.75,126.30 L320.64,126.81 L320.35,127.30 L320.09,127.67 L319.45,128.20 L318.76,128.66 L317.86,129.21 L316.89,129.81 L316.00,130.40 L315.14,130.99 L314.26,131.61 L313.49,132.19 L312.95,132.70 L312.71,133.41 L312.95,134.00 L313.24,134.57 L313.75,135.30 L314.06,135.72 L314.44,136.21 L314.85,136.74 L315.23,137.27 L315.55,137.80 L315.81,138.32 L316.06,138.84 L316.26,139.36 L316.39,139.88 L316.45,140.40 L316.43,140.91 L316.33,141.41 L316.17,141.90 L315.94,142.40 L315.65,142.90 L315.26,143.40 L314.77,143.90 L314.23,144.40 L313.69,144.90 L313.20,145.40 L312.77,145.91 L312.37,146.42 L311.98,146.93 L311.60,147.43 L311.20,147.90 L310.67,148.46 L310.12,149.01 L309.60,149.52 L309.15,150.00 L308.66,150.63 L308.26,151.20 L308.00,151.60 L308.00,151.60 L307.74,151.20 L307.34,150.63 L306.85,150.00 L306.40,149.52 L305.88,149.01 L305.33,148.46 L304.80,147.90 L304.40,147.43 L304.02,146.93 L303.63,146.42 L303.23,145.91 L302.80,145.40 L302.31,144.90 L301.77,144.40 L301.23,143.90 L300.74,143.40 L300.35,142.90 L300.06,142.40 L299.83,141.90 L299.67,141.41 L299.57,140.91 L299.55,140.40 L299.61,139.88 L299.74,139.36 L299.94,138.84 L300.19,138.32 L300.45,137.80 L300.77,137.27 L301.15,136.74 L301.56,136.21 L301.94,135.72 L302.25,135.30 L302.76,134.57 L303.05,134.00 L303.29,133.41 L303.05,132.70 L302.51,132.19 L301.74,131.61 L300.86,130.99 L300.00,130.40 L299.11,129.81 L298.14,129.21 L297.24,128.66 L296.55,128.20 L295.91,127.67 L295.65,127.30 L295.36,126.81 L295.25,126.30 L295.43,125.76 L295.85,125.20 L296.47,124.65 L297.35,124.00 L298.17,123.39 L299.13,122.69 L300.05,122.10 L301.26,121.54 L302.45,121.10 L303.79,120.63 L305.05,120.20 L306.02,119.83 L306.75,119.50 L307.21,119.16 L307.45,118.90 Z" fill="#e78cd7" fill-opacity="0.3" stroke="#464646" stroke-opacity="0.36" stroke-width="1.2" stroke-linejoin="round"/>
<line x1="75.1" x2="75.1" y1="99.9" y2="160.7" stroke="#464646" stroke-width="1.2" stroke-linecap="round"/>
<line x1="75.1" x2="75.1" y1="115.8" y2="160.7" stroke="#464646" stroke-width="3.5999999999999996" stroke-linecap="round"/>
<circle cx="75.1" cy="116.2" r="1.2" fill="#ffffff" stroke="#464646" stroke-width="0.3"/>
<line x1="108.6" x2="108.6" y1="109.9" y2="141.7" stroke="#464646" stroke-width="1.2" stroke-linecap="round"/>
<line x1="108.6" x2="108.6" y1="109.9" y2="135.9" stroke="#464646" stroke-width="3.5999999999999996" stroke-linecap="round"/>
<circle cx="108.6" cy="117.4" r="1.2" fill="#ffffff" stroke="#464646" stroke-width="0.3"/>
<line x1="142.0" x2="142.0" y1="80.3" y2="118.8" stroke="#464646" stroke-width="3.5999999999999996" stroke-linecap="round"/>
<circle cx="142.0" cy="118.8" r="1.2" fill="#ffffff" stroke="#464646" stroke-width="0.3"/>
<line x1="175.1" x2="175.1" y1="115.85" y2="122.35" stroke="#464646" stroke-width="3.5999999999999996" stroke-linecap="round"/>
<circle cx="175.1" cy="121.3" r="1.2" fill="#ffffff" stroke="#464646" stroke-width="0.3"/>
<line x1="208.3" x2="208.3" y1="110.5" y2="116.9" stroke="#464646" stroke-width="3.5999999999999996" stroke-linecap="round"/>
<circle cx="208.3" cy="113.8" r="1.2" fill="#ffffff" stroke="#464646" stroke-width="0.3"/>
<line x1="241.6" x2="241.6" y1="100.7" y2="108.3" stroke="#464646" stroke-width="1.2" stroke-linecap="round"/>
<line x1="241.6" x2="241.6" y1="103.3" y2="108.3" stroke="#464646" stroke-width="3.5999999999999996" stroke-linecap="round"/>
<circle cx="241.6" cy="104.3" r="1.2" fill="#ffffff" stroke="#464646" stroke-width="0.3"/>
<line x1="274.8" x2="274.8" y1="97.6" y2="145.2" stroke="#464646" stroke-width="1.2" stroke-linecap="round"/>
<line x1="274.8" x2="274.8" y1="110.3" y2="145.2" stroke="#464646" stroke-width="3.5999999999999996" stroke-linecap="round"/>
<circle cx="274.8" cy="114.7" r="1.2" fill="#ffffff" stroke="#464646" stroke-width="0.3"/>
<line x1="308.0" x2="308.0" y1="126.9" y2="143.1" stroke="#464646" stroke-width="1.2" stroke-linecap="round"/>
<line x1="308.0" x2="308.0" y1="126.9" y2="138.6" stroke="#464646" stroke-width="3.5999999999999996" stroke-linecap="round"/>
<circle cx="308.0" cy="127.4" r="1.2" fill="#ffffff" stroke="#464646" stroke-width="0.3"/>
</g>
<text x="53.3" y="36.70" text-anchor="end" font-size="11.15" fill="#262626">0.00672</text>
<text x="53.3" y="56.70" text-anchor="end" font-size="11.15" fill="#262626">0.00670</text>
<text x="53.3" y="76.70" text-anchor="end" font-size="11.15" fill="#262626">0.00668</text>
<text x="53.3" y="96.70" text-anchor="end" font-size="11.15" fill="#262626">0.00666</text>
<text x="53.3" y="116.70" text-anchor="end" font-size="11.15" fill="#262626">0.00664</text>
<text x="53.3" y="136.70" text-anchor="end" font-size="11.15" fill="#262626">0.00662</text>
<text x="53.3" y="156.70" text-anchor="end" font-size="11.15" fill="#262626">0.00660</text>
<text x="53.3" y="176.70" text-anchor="end" font-size="11.15" fill="#262626">0.00658</text>
<text x="53.3" y="196.70" text-anchor="end" font-size="11.15" fill="#262626">0.00656</text>
<text x="192.2" y="15.5" text-anchor="middle" font-size="11.1" fill="#262626">Wind energy - objective violin plot diagram</text>
<text x="454.0" y="10.2" font-size="11.1" fill="#262626">Wind<tspan x="483.0">energy</tspan><tspan x="520.6">-</tspan><tspan x="527.7" y="10.6" font-style="italic">R</tspan><tspan x="536.5" y="5.8" font-size="8.5">2</tspan><tspan x="544.6" y="10.2" word-spacing="0.5">box plot diagram</tspan></text>
<text x="192.1" y="260.7" text-anchor="middle" font-size="11" fill="#262626">Algorithm</text>
<text x="541.4" y="260.7" text-anchor="middle" font-size="11" fill="#262626">Algorithm</text>
<text transform="translate(8.1,106.4) rotate(-90)" text-anchor="middle" font-size="11.2" fill="#262626">Objective</text>
<text transform="translate(360.3,109.8) rotate(-90) scale(0.88,1)" font-size="11" font-style="italic" fill="#262626">R</text>
<text transform="translate(356.4,101.7) rotate(-90)" font-size="8.8" fill="#262626">2</text>
<text transform="translate(100.23,203.50) rotate(-45)" text-anchor="end" font-size="11.25" fill="#262626">LSTM-ERSA</text>
<text transform="translate(130.80,203.50) rotate(-45)" text-anchor="end" font-size="11.25" fill="#262626">LSTM-RSA</text>
<text transform="translate(164.25,203.50) rotate(-45)" text-anchor="end" font-size="11.25" fill="#262626">LSTM-PSO</text>
<text transform="translate(197.25,203.50) rotate(-45)" text-anchor="end" font-size="11.25" fill="#262626">LSTM-ABC</text>
<text transform="translate(227.16,203.50) rotate(-45)" text-anchor="end" font-size="11.25" fill="#262626">LSTM-FA</text>
<text transform="translate(264.36,203.50) rotate(-45)" text-anchor="end" font-size="11.25" fill="#262626">LSTM-HHO</text>
<text transform="translate(298.25,203.50) rotate(-45)" text-anchor="end" font-size="11.25" fill="#262626">LSTM-WOA</text>
<text transform="translate(332.81,203.50) rotate(-45)" text-anchor="end" font-size="11.25" fill="#262626">LSTM-ChOA</text>
<text transform="translate(447.74,202.50) rotate(-45)" text-anchor="end" font-size="11.25" fill="#262626">LSTM-ERSA</text>
<text transform="translate(478.94,202.50) rotate(-45)" text-anchor="end" font-size="11.25" fill="#262626">LSTM-RSA</text>
<text transform="translate(513.01,202.50) rotate(-45)" text-anchor="end" font-size="11.25" fill="#262626">LSTM-PSO</text>
<text transform="translate(546.64,202.50) rotate(-45)" text-anchor="end" font-size="11.25" fill="#262626">LSTM-ABC</text>
<text transform="translate(577.18,202.50) rotate(-45)" text-anchor="end" font-size="11.25" fill="#262626">LSTM-FA</text>
<text transform="translate(615.00,202.50) rotate(-45)" text-anchor="end" font-size="11.25" fill="#262626">LSTM-HHO</text>
<text transform="translate(649.51,202.50) rotate(-45)" text-anchor="end" font-size="11.25" fill="#262626">LSTM-WOA</text>
<text transform="translate(684.69,202.50) rotate(-45)" text-anchor="end" font-size="11.25" fill="#262626">LSTM-ChOA</text>
<rect x="406.0" y="15.6" width="270.80" height="175.40" fill="#EAEAF2"/>
<line x1="406.0" x2="676.8" y1="30.60" y2="30.60" stroke="#ffffff" stroke-width="1.3"/>
<line x1="406.0" x2="676.8" y1="62.07" y2="62.07" stroke="#ffffff" stroke-width="1.3"/>
<line x1="406.0" x2="676.8" y1="93.54" y2="93.54" stroke="#ffffff" stroke-width="1.3"/>
<line x1="406.0" x2="676.8" y1="125.01" y2="125.01" stroke="#ffffff" stroke-width="1.3"/>
<line x1="406.0" x2="676.8" y1="156.48" y2="156.48" stroke="#ffffff" stroke-width="1.3"/>
<line x1="406.0" x2="676.8" y1="187.95" y2="187.95" stroke="#ffffff" stroke-width="1.3"/>
<text x="400.6" y="34.90" text-anchor="end" font-size="11.15" fill="#262626">0.8440</text>
<text x="400.6" y="66.37" text-anchor="end" font-size="11.15" fill="#262626">0.8435</text>
<text x="400.6" y="97.84" text-anchor="end" font-size="11.15" fill="#262626">0.8430</text>
<text x="400.6" y="129.31" text-anchor="end" font-size="11.15" fill="#262626">0.8425</text>
<text x="400.6" y="160.78" text-anchor="end" font-size="11.15" fill="#262626">0.8420</text>
<text x="400.6" y="192.25" text-anchor="end" font-size="11.15" fill="#262626">0.8415</text>
<line x1="422.93" x2="422.93" y1="23.3" y2="23.5" stroke="#464646" stroke-width="1.8"/>
<line x1="422.93" x2="422.93" y1="89.9" y2="115.0" stroke="#464646" stroke-width="1.8"/>
<line x1="416.16" x2="429.69" y1="23.3" y2="23.3" stroke="#464646" stroke-width="1.8" stroke-linecap="round"/>
<line x1="416.16" x2="429.69" y1="115.0" y2="115.0" stroke="#464646" stroke-width="1.8" stroke-linecap="round"/>
<rect x="409.38" y="23.5" width="27.08" height="66.40" fill="#ea96a3" stroke="#464646" stroke-width="1.8"/>
<line x1="409.38" x2="436.47" y1="56.8" y2="56.8" stroke="#464646" stroke-width="1.8"/>
<line x1="456.77" x2="456.77" y1="52.1" y2="60.6" stroke="#464646" stroke-width="1.8"/>
<line x1="456.77" x2="456.77" y1="99.3" y2="99.8" stroke="#464646" stroke-width="1.8"/>
<line x1="450.00" x2="463.54" y1="52.1" y2="52.1" stroke="#464646" stroke-width="1.8" stroke-linecap="round"/>
<line x1="450.00" x2="463.54" y1="99.8" y2="99.8" stroke="#464646" stroke-width="1.8" stroke-linecap="round"/>
<rect x="443.23" y="60.6" width="27.08" height="38.70" fill="#ca984c" stroke="#464646" stroke-width="1.8"/>
<line x1="443.23" x2="470.31" y1="88.5" y2="88.5" stroke="#464646" stroke-width="1.8"/>
<line x1="490.62" x2="490.62" y1="82.0" y2="86.2" stroke="#464646" stroke-width="1.8"/>
<line x1="490.62" x2="490.62" y1="142.9" y2="143.2" stroke="#464646" stroke-width="1.8"/>
<line x1="483.86" x2="497.39" y1="82.0" y2="82.0" stroke="#464646" stroke-width="1.8" stroke-linecap="round"/>
<line x1="483.86" x2="497.39" y1="143.2" y2="143.2" stroke="#464646" stroke-width="1.8" stroke-linecap="round"/>
<rect x="477.08" y="86.2" width="27.08" height="56.70" fill="#98a246" stroke="#464646" stroke-width="1.8"/>
<line x1="477.08" x2="504.17" y1="142.9" y2="142.9" stroke="#464646" stroke-width="1.8"/>
<line x1="524.48" x2="524.48" y1="79.4" y2="79.7" stroke="#464646" stroke-width="1.8"/>
<line x1="524.48" x2="524.48" y1="90.5" y2="91.9" stroke="#464646" stroke-width="1.8"/>
<line x1="517.71" x2="531.25" y1="79.4" y2="79.4" stroke="#464646" stroke-width="1.8" stroke-linecap="round"/>
<line x1="517.71" x2="531.25" y1="91.9" y2="91.9" stroke="#464646" stroke-width="1.8" stroke-linecap="round"/>
<rect x="510.94" y="79.7" width="27.08" height="10.80" fill="#49af72" stroke="#464646" stroke-width="1.8"/>
<line x1="510.94" x2="538.01" y1="82.5" y2="82.5" stroke="#464646" stroke-width="1.8"/>
<path d="M524.48,39.70 L526.77,43.30 L524.48,46.90 L522.18,43.30 Z" fill="#464646"/>
<line x1="558.33" x2="558.33" y1="89.8" y2="90.2" stroke="#464646" stroke-width="1.8"/>
<line x1="558.33" x2="558.33" y1="98.1" y2="98.5" stroke="#464646" stroke-width="1.8"/>
<line x1="551.56" x2="565.10" y1="89.8" y2="89.8" stroke="#464646" stroke-width="1.8" stroke-linecap="round"/>
<line x1="551.56" x2="565.10" y1="98.5" y2="98.5" stroke="#464646" stroke-width="1.8" stroke-linecap="round"/>
<rect x="544.79" y="90.2" width="27.08" height="7.90" fill="#4baba4" stroke="#464646" stroke-width="1.8"/>
<line x1="544.79" x2="571.87" y1="94.3" y2="94.3" stroke="#464646" stroke-width="1.8"/>
<path d="M558.33,74.90 L560.62,78.50 L558.33,82.10 L556.03,78.50 Z" fill="#464646"/>
<path d="M558.33,178.90 L560.62,182.50 L558.33,186.10 L556.03,182.50 Z" fill="#464646"/>
<line x1="592.17" x2="592.17" y1="100.9" y2="101.5" stroke="#464646" stroke-width="1.8"/>
<line x1="592.17" x2="592.17" y1="107.8" y2="112.3" stroke="#464646" stroke-width="1.8"/>
<line x1="585.40" x2="598.94" y1="100.9" y2="100.9" stroke="#464646" stroke-width="1.8" stroke-linecap="round"/>
<line x1="585.40" x2="598.94" y1="112.3" y2="112.3" stroke="#464646" stroke-width="1.8" stroke-linecap="round"/>
<rect x="578.63" y="101.5" width="27.08" height="6.30" fill="#53accd" stroke="#464646" stroke-width="1.8"/>
<line x1="578.63" x2="605.71" y1="101.6" y2="101.6" stroke="#464646" stroke-width="1.8"/>
<path d="M592.17,80.80 L594.47,84.40 L592.17,88.00 L589.88,84.40 Z" fill="#464646"/>
<line x1="626.02" x2="626.02" y1="45.9" y2="46.4" stroke="#464646" stroke-width="1.8"/>
<line x1="626.02" x2="626.02" y1="99.9" y2="117.8" stroke="#464646" stroke-width="1.8"/>
<line x1="619.25" x2="632.79" y1="45.9" y2="45.9" stroke="#464646" stroke-width="1.8" stroke-linecap="round"/>
<line x1="619.25" x2="632.79" y1="117.8" y2="117.8" stroke="#464646" stroke-width="1.8" stroke-linecap="round"/>
<rect x="612.49" y="46.4" width="27.08" height="53.50" fill="#b6a8eb" stroke="#464646" stroke-width="1.8"/>
<line x1="612.49" x2="639.56" y1="92.3" y2="92.3" stroke="#464646" stroke-width="1.8"/>
<line x1="659.88" x2="659.88" y1="49.4" y2="56.4" stroke="#464646" stroke-width="1.8"/>
<line x1="659.88" x2="659.88" y1="73.8" y2="74.6" stroke="#464646" stroke-width="1.8"/>
<line x1="653.11" x2="666.64" y1="49.4" y2="49.4" stroke="#464646" stroke-width="1.8" stroke-linecap="round"/>
<line x1="653.11" x2="666.64" y1="74.6" y2="74.6" stroke="#464646" stroke-width="1.8" stroke-linecap="round"/>
<rect x="646.34" y="56.4" width="27.08" height="17.40" fill="#e78cd7" stroke="#464646" stroke-width="1.8"/>
<line x1="646.34" x2="673.41" y1="73.3" y2="73.3" stroke="#464646" stroke-width="1.8"/>
</svg>
</body></html>
